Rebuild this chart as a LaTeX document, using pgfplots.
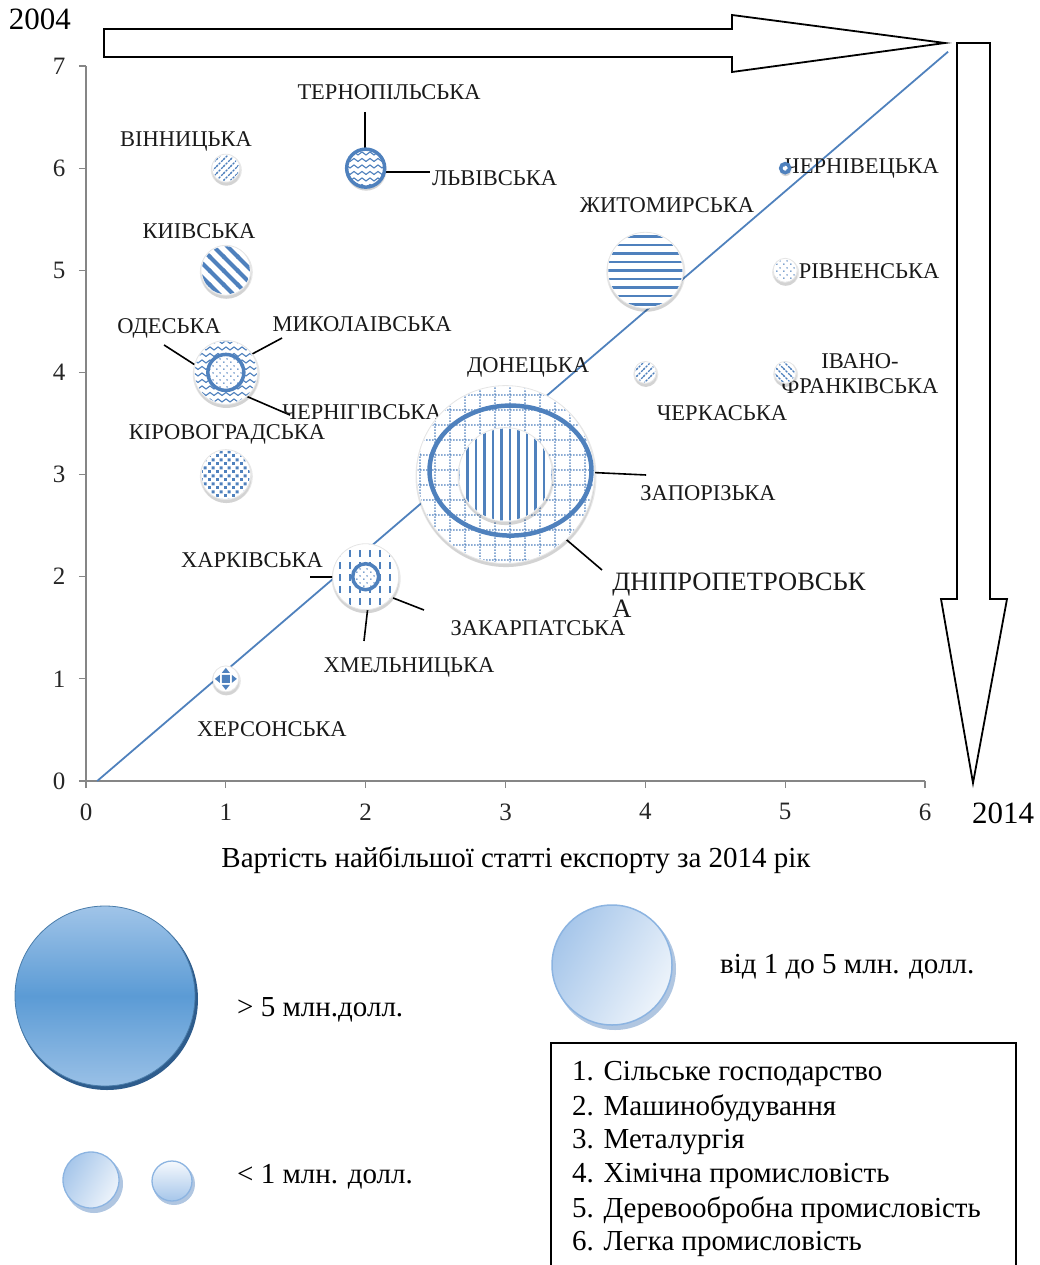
\documentclass[border=0pt]{standalone}
\usepackage{fontspec}
\setmainfont{Liberation Serif}
\usepackage{pgfplots}
\pgfplotsset{compat=1.18}
\usetikzlibrary{patterns}
\definecolor{patblue}{RGB}{79,129,189}
\definecolor{axgray}{RGB}{134,134,134}
\definecolor{lgA}{RGB}{160,196,232}
\definecolor{lgB}{RGB}{91,155,213}
\definecolor{lgC}{RGB}{46,92,140}
\definecolor{lgL}{RGB}{166,198,234}
\definecolor{lgE}{RGB}{140,180,225}

% ---- fill patterns of the bubbles
\pgfdeclarepatternformonly{pNEthin}{\pgfqpoint{-1pt}{-1pt}}{\pgfqpoint{8pt}{8pt}}{\pgfqpoint{7pt}{7pt}}{%
  \pgfsetlinewidth{1.3pt}\pgfsetdash{{2.4pt}{1.3pt}}{0pt}%
  \pgfpathmoveto{\pgfqpoint{-1pt}{-1pt}}\pgfpathlineto{\pgfqpoint{8pt}{8pt}}\pgfusepath{stroke}}
\pgfdeclarepatternformonly{pNWthin}{\pgfqpoint{-1pt}{-1pt}}{\pgfqpoint{8pt}{8pt}}{\pgfqpoint{7pt}{7pt}}{%
  \pgfsetlinewidth{1.3pt}\pgfsetdash{{2.4pt}{1.3pt}}{0pt}%
  \pgfpathmoveto{\pgfqpoint{-1pt}{8pt}}\pgfpathlineto{\pgfqpoint{8pt}{-1pt}}\pgfusepath{stroke}}
\pgfdeclarepatternformonly{pNWthick}{\pgfqpoint{-2pt}{-2pt}}{\pgfqpoint{16pt}{16pt}}{\pgfqpoint{14pt}{14pt}}{%
  \pgfsetlinewidth{4pt}%
  \pgfpathmoveto{\pgfqpoint{-2pt}{16pt}}\pgfpathlineto{\pgfqpoint{16pt}{-2pt}}\pgfusepath{stroke}}
\pgfdeclarepatternformonly{pHlines}{\pgfqpoint{-1pt}{-2pt}}{\pgfqpoint{11pt}{2pt}}{\pgfqpoint{10pt}{8.5pt}}{%
  \pgfsetlinewidth{2.2pt}%
  \pgfpathmoveto{\pgfqpoint{-1pt}{0pt}}\pgfpathlineto{\pgfqpoint{11pt}{0pt}}\pgfusepath{stroke}}
\pgfdeclarepatternformonly{pVlines}{\pgfqpoint{-2pt}{-1pt}}{\pgfqpoint{2pt}{11pt}}{\pgfqpoint{8.5pt}{10pt}}{%
  \pgfsetlinewidth{2.4pt}%
  \pgfpathmoveto{\pgfqpoint{0pt}{-1pt}}\pgfpathlineto{\pgfqpoint{0pt}{11pt}}\pgfusepath{stroke}}
\pgfdeclarepatternformonly{pVdash}{\pgfqpoint{-1pt}{-1pt}}{\pgfqpoint{1pt}{8pt}}{\pgfqpoint{10pt}{12pt}}{%
  \pgfsetlinewidth{1.6pt}%
  \pgfpathmoveto{\pgfqpoint{0pt}{0pt}}\pgfpathlineto{\pgfqpoint{0pt}{6.5pt}}\pgfusepath{stroke}}
\pgfdeclarepatternformonly{pGridDot}{\pgfqpoint{-1pt}{-1pt}}{\pgfqpoint{15pt}{15pt}}{\pgfqpoint{15pt}{15pt}}{%
  \foreach \i in {0,3,6,9,12}{%
    \pgfpathrectangle{\pgfqpoint{\i pt}{-0.7pt}}{\pgfqpoint{1.6pt}{1.4pt}}%
    \pgfpathrectangle{\pgfqpoint{-0.7pt}{\i pt}}{\pgfqpoint{1.4pt}{1.6pt}}}%
  \pgfusepath{fill}}
\pgfdeclarepatternformonly{pDots}{\pgfqpoint{-1pt}{-1pt}}{\pgfqpoint{6pt}{6pt}}{\pgfqpoint{7pt}{7pt}}{%
  \pgfpathcircle{\pgfqpoint{0pt}{0pt}}{0.9pt}%
  \pgfpathcircle{\pgfqpoint{3.5pt}{3.5pt}}{0.9pt}\pgfusepath{fill}}
\pgfdeclarepatternformonly{pSquares}{\pgfqpoint{0pt}{0pt}}{\pgfqpoint{8pt}{8pt}}{\pgfqpoint{8pt}{8pt}}{%
  \pgfpathrectangle{\pgfqpoint{0pt}{0pt}}{\pgfqpoint{3.2pt}{3.2pt}}%
  \pgfpathrectangle{\pgfqpoint{4pt}{4pt}}{\pgfqpoint{3.2pt}{3.2pt}}\pgfusepath{fill}}
\pgfdeclarepatternformonly{pWaves}{\pgfqpoint{-1pt}{-2.5pt}}{\pgfqpoint{9pt}{2.5pt}}{\pgfqpoint{8pt}{6.5pt}}{%
  \pgfsetlinewidth{1.1pt}%
  \pgfpathmoveto{\pgfqpoint{0pt}{0pt}}%
  \pgfpathcurveto{\pgfqpoint{1.3pt}{2pt}}{\pgfqpoint{2.7pt}{2pt}}{\pgfqpoint{4pt}{0pt}}%
  \pgfpathcurveto{\pgfqpoint{5.3pt}{-2pt}}{\pgfqpoint{6.7pt}{-2pt}}{\pgfqpoint{8pt}{0pt}}%
  \pgfusepath{stroke}}

% ---- bubble marks: soft shadow, white disc, patterned disc
\newcommand\bubshadow{%
  \pgfmathsetlengthmacro\rA{\pgfplotmarksize+1.5pt}%
  \pgfscope
    \pgfsetfillcolor{black}\pgfsetfillopacity{0.09}%
    \pgfpathcircle{\pgfqpoint{0.5pt}{-2pt}}{\rA}\pgfusepath{fill}%
    \pgfpathcircle{\pgfqpoint{0.5pt}{-3.5pt}}{\pgfplotmarksize}\pgfusepath{fill}%
  \endpgfscope}
\newcommand\declbubble[2]{%
  \pgfdeclareplotmark{#1}{%
    \bubshadow
    \pgfmathsetlengthmacro\rB{\pgfplotmarksize-1pt}%
    \pgfscope
      \pgfsetfillcolor{white}\pgfsetstrokecolor{black!10}\pgfsetlinewidth{0.8pt}%
      \pgfpathcircle{\pgfpointorigin}{\pgfplotmarksize}\pgfusepath{fill,stroke}%
      \pgfsetfillpattern{#2}{patblue}%
      \pgfpathcircle{\pgfpointorigin}{\rB}\pgfusepath{fill}%
    \endpgfscope}}
\newcommand\declring[3]{% name, pattern, shadow?
  \pgfdeclareplotmark{#1}{%
    #3%
    \pgfscope
      \pgfsetfillcolor{white}%
      \pgfpathcircle{\pgfpointorigin}{\pgfplotmarksize}\pgfusepath{fill}%
      \pgfsetfillpattern{#2}{patblue}%
      \pgfpathcircle{\pgfpointorigin}{\pgfplotmarksize}\pgfusepath{fill}%
    \endpgfscope
    \pgfscope
      \pgfsetstrokecolor{patblue}\pgfsetlinewidth{3.5pt}%
      \pgfpathcircle{\pgfpointorigin}{\pgfplotmarksize}\pgfusepath{stroke}%
    \endpgfscope}}
\declbubble{bNE}{pNEthin}
\declbubble{bNW}{pNWthin}
\declbubble{bNWthick}{pNWthick}
\declbubble{bH}{pHlines}
\declbubble{bV}{pVlines}
\declbubble{bVdash}{pVdash}
\declbubble{bGrid}{pGridDot}
\declbubble{bDots}{pDots}
\declbubble{bSq}{pSquares}
\declbubble{bWaves}{pWaves}
\declring{rDots}{pDots}{}
\declring{rWaves}{pWaves}{\bubshadow}
\declring{rSmall}{pDots}{\bubshadow}
\pgfdeclareplotmark{ellRing}{%
  \pgfscope
    \pgfsetstrokecolor{patblue}\pgfsetlinewidth{4.5pt}%
    \pgfpathellipse{\pgfqpoint{5pt}{4pt}}{\pgfqpoint{81pt}{0pt}}{\pgfqpoint{0pt}{65pt}}\pgfusepath{stroke}%
  \endpgfscope}
\pgfdeclareplotmark{bChecker}{%
  \bubshadow
  \pgfscope
    \pgfsetfillcolor{white}\pgfsetstrokecolor{black!10}\pgfsetlinewidth{0.8pt}%
    \pgfpathcircle{\pgfpointorigin}{\pgfplotmarksize}\pgfusepath{fill,stroke}%
    \pgfsetfillcolor{patblue}%
    \pgfpathrectangle{\pgfqpoint{-4pt}{-4pt}}{\pgfqpoint{8pt}{8pt}}%
    \pgfpathmoveto{\pgfqpoint{-4pt}{6pt}}\pgfpathlineto{\pgfqpoint{4pt}{6pt}}\pgfpathlineto{\pgfqpoint{0pt}{11pt}}\pgfpathclose
    \pgfpathmoveto{\pgfqpoint{-4pt}{-6pt}}\pgfpathlineto{\pgfqpoint{4pt}{-6pt}}\pgfpathlineto{\pgfqpoint{0pt}{-11pt}}\pgfpathclose
    \pgfpathmoveto{\pgfqpoint{6pt}{-4pt}}\pgfpathlineto{\pgfqpoint{6pt}{4pt}}\pgfpathlineto{\pgfqpoint{11pt}{0pt}}\pgfpathclose
    \pgfpathmoveto{\pgfqpoint{-6pt}{-4pt}}\pgfpathlineto{\pgfqpoint{-6pt}{4pt}}\pgfpathlineto{\pgfqpoint{-11pt}{0pt}}\pgfpathclose
    \pgfusepath{fill}%
  \endpgfscope}

\tikzset{
  lab/.style={font=\fontsize{22.5}{25}\selectfont, inner sep=0pt, text=black!90},
  lead/.style={black, line width=1.6pt},
}

\begin{document}
\begin{tikzpicture}
\useasboundingbox (0pt,0pt) rectangle (1040pt,-1265pt);
\begin{axis}[
  at={(86pt,-781pt)}, anchor=south west,
  scale only axis, width=839pt, height=715pt,
  xmin=0, xmax=6, ymin=0, ymax=7,
  axis x line*=bottom, axis y line*=left,
  axis line style={axgray, line width=1.2pt},
  xtick={0,...,6}, ytick={0,...,7},
  tick align=outside, major tick length=7pt,
  tick style={axgray, line width=1.2pt},
  ticklabel style={font=\fontsize{25}{27}\selectfont, text=black!85},
  /pgf/number format/assume math mode=true,
  xticklabel style={yshift=-12pt},
  yticklabel style={xshift=-10pt},
  clip=false,
]
% largest export item 2014 (x) vs 2004 (y); bubble radius in pt
\addplot[only marks, mark=bGrid, mark size=89pt] coordinates {(3,3)};      % Донецька
\addplot[only marks, mark=ellRing] coordinates {(3,3)};                     % Дніпропетровська
\addplot[only marks, mark=bV, mark size=47pt] coordinates {(3,3)};          % Запорізька
\addplot[only marks, mark=bNE, mark size=14pt] coordinates {(1,6)};         % Вінницька
\addplot[only marks, mark=rWaves, mark size=19pt] coordinates {(2,6)};      % Тернопільська, Львівська
\addplot[only marks, mark=bNWthick, mark size=25pt] coordinates {(1,5)};    % Київська
\addplot[only marks, mark=bWaves, mark size=32pt] coordinates {(1,4)};      % Одеська
\addplot[only marks, mark=rDots, mark size=18pt] coordinates {(1,4)};       % Миколаївська, Чернігівська
\addplot[only marks, mark=bSq, mark size=25pt] coordinates {(1,3)};         % Кіровоградська
\addplot[only marks, mark=bVdash, mark size=33pt] coordinates {(2,2)};      % Закарпатська
\addplot[only marks, mark=rDots, mark size=13pt] coordinates {(2,2)};       % Харківська, Хмельницька
\addplot[only marks, mark=bChecker, mark size=13pt] coordinates {(1,1)};    % Херсонська
\addplot[only marks, mark=bH, mark size=38pt] coordinates {(4,5)};          % Житомирська
\addplot[only marks, mark=bNE, mark size=11pt] coordinates {(4,4)};         % Черкаська
\addplot[only marks, mark=rSmall, mark size=4.5pt] coordinates {(5,6)};     % Чернівецька
\addplot[only marks, mark=bDots, mark size=12pt] coordinates {(5,5)};       % Рівненська
\addplot[only marks, mark=bNW, mark size=11pt] coordinates {(5,4)};         % Івано-Франківська
\addplot[patblue, line width=1.8pt, no marks] coordinates {(0.08,0) (6.165,7.14)};

% leader lines
\draw[lead] (axis cs:1.995,6.550) -- (axis cs:1.995,6.178);
\draw[lead] (axis cs:2.045,5.962) -- (axis cs:2.460,5.962);
\draw[lead] (axis cs:0.558,4.269) -- (axis cs:0.780,4.073);
\draw[lead] (axis cs:1.402,4.337) -- (axis cs:1.001,4.043);
\draw[lead] (axis cs:1.044,3.828) -- (axis cs:1.459,3.583);
\draw[lead] (axis cs:3.233,3.045) -- (axis cs:4.005,2.996);
\draw[lead] (axis cs:3.304,2.516) -- (axis cs:3.690,2.066);
\draw[lead] (axis cs:1.602,1.997) -- (axis cs:1.888,1.997);
\draw[lead] (axis cs:2.196,1.792) -- (axis cs:2.417,1.674);
\draw[lead] (axis cs:2.038,1.968) -- (axis cs:1.988,1.371);

% region names
\node[lab] at (axis cs:2.167,6.746) {ТЕРНОПІЛЬСЬКА};
\node[lab] at (axis cs:0.715,6.266) {ВІННИЦЬКА};
\node[lab, anchor=west] at (axis cs:2.474,5.904) {ЛЬВІВСЬКА};
\node[lab] at (axis cs:5.550,5.992) {ЧЕРНІВЕЦЬКА};
\node[lab] at (axis cs:4.155,5.639) {ЖИТОМИРСЬКА};
\node[lab] at (axis cs:0.808,5.385) {КИІВСЬКА};
\node[lab] at (axis cs:5.600,4.993) {РІВНЕНСЬКА};
\node[lab] at (axis cs:0.594,4.435) {ОДЕСЬКА};
\node[lab] at (axis cs:1.974,4.474) {МИКОЛАІВСЬКА};
\node[lab] at (axis cs:3.161,4.053) {ДОНЕЦЬКА};
\node[lab, align=center] at (axis cs:5.535,3.985) {ІВАНО-\\ФРАНКІВСЬКА};
\node[lab] at (axis cs:1.974,3.613) {ЧЕРНІГІВСЬКА};
\node[lab] at (axis cs:4.548,3.603) {ЧЕРКАСЬКА};
\node[lab] at (axis cs:1.008,3.397) {КІРОВОГРАДСЬКА};
\node[lab] at (axis cs:4.448,2.820) {ЗАПОРІЗЬКА};
\node[lab] at (axis cs:1.187,2.164) {ХАРКІВСЬКА};
\node[lab, font=\fontsize{26.5}{27}\selectfont, align=left, anchor=north west] at (axis cs:3.762,2.036) {ДНІПРОПЕТРОВСЬК\\А};
\node[lab] at (axis cs:3.233,1.498) {ЗАКАРПАТСЬКА};
\node[lab] at (axis cs:2.310,1.116) {ХМЕЛЬНИЦЬКА};
\node[lab] at (axis cs:1.330,0.509) {ХЕРСОНСЬКА};
\end{axis}

\begin{scope}[x=1pt, y=-1pt]
% year arrows
\draw[line width=1.8pt, fill=white] (104,29) -- (732,29) -- (732,15) -- (945,43) -- (732,72) -- (732,57) -- (104,57) -- cycle;
\draw[line width=1.8pt, fill=white] (957,43) -- (990,43) -- (990,599) -- (1007,599) -- (973,783) -- (941,599) -- (957,599) -- cycle;
\node[font=\fontsize{31}{33}\selectfont, inner sep=0pt] at (40,19) {2004};
\node[font=\fontsize{31}{33}\selectfont, inner sep=0pt] at (1003,813) {2014};
\node[font=\fontsize{29}{31}\selectfont, inner sep=0pt] at (516,860) {Вартість найбільшої статті експорту за 2014 рік};

% size legend
\fill[lgC] (107,999) circle (91);
\shade[top color=lgA, bottom color=lgA!90!lgB, middle color=lgB] (105,996) circle (90);
\draw[lgB!80!black, line width=0.8pt] (105,996) circle (90);
\node[font=\fontsize{29}{31}\selectfont, anchor=west, inner sep=0pt] at (237,1010) {> 5 млн.долл.};

\fill[patblue!45] (615,969) circle (61);
\shade[shading=axis, left color=lgL, right color=lgL!20, shading angle=60] (612,965) circle (60);
\draw[lgE, line width=1.5pt] (612,965) circle (60);
\node[font=\fontsize{29}{31}\selectfont, anchor=west, inner sep=0pt] at (720,967) {від 1 до 5 млн. долл.};

\fill[patblue!45] (94,1184) circle (29);
\shade[shading=axis, left color=lgL, right color=lgL!20, shading angle=60] (91,1180) circle (28);
\draw[lgE, line width=1.3pt] (91,1180) circle (28);
\fill[patblue!45] (174,1184) circle (21);
\shade[shading=axis, top color=lgL!10, bottom color=lgL, shading angle=0] (172,1181) circle (20);
\draw[lgE, line width=1.3pt] (172,1181) circle (20);
\node[font=\fontsize{29}{31}\selectfont, anchor=west, inner sep=0pt] at (237,1177) {< 1 млн. долл.};

% branch list
\draw[line width=1.6pt] (551,1280) -- (551,1043) -- (1016,1043) -- (1016,1280);
\foreach \t [count=\i] in {1. Сільське господарство, 2. Машинобудування, 3. Металургія,
    4. Хімічна промисловість, 5. Деревообробна промисловість, 6. Легка промисловість}
  \node[font=\fontsize{29}{31}\selectfont, anchor=west, inner sep=0pt] at (572,{1040+34*\i}) {\t};
\end{scope}
\end{tikzpicture}
\end{document}
